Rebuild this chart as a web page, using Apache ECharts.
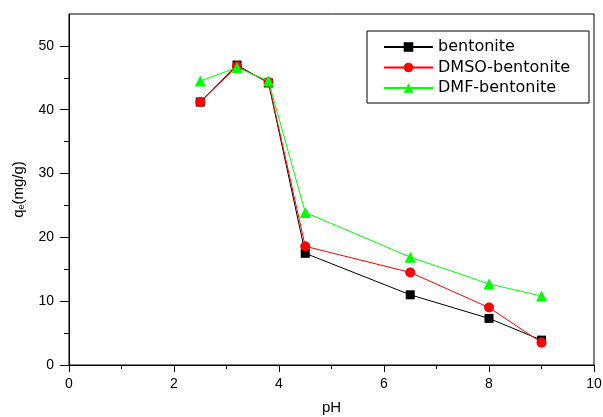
<!DOCTYPE html>
<html><head><meta charset="utf-8">
<script src="https://cdn.jsdelivr.net/npm/echarts@6/dist/echarts.min.js"></script>
<style>html,body{margin:0;padding:0;background:#fff}#c{width:603px;height:417px}</style>
</head><body><div id="c"></div>
<script>
const pH = [2.5, 3.2, 3.8, 4.5, 6.5, 8, 9];
const bentonite = [41.2, 47.0, 44.2, 17.5, 11.0, 7.3, 3.9];
const dmsoBentonite = [41.2, 46.8, 44.3, 18.6, 14.5, 9.0, 3.5];
const dmfBentonite = [44.5, 46.6, 44.5, 23.9, 16.9, 12.7, 10.8];
const seriesNames = ['bentonite', 'DMSO-bentonite', 'DMF-bentonite'];
const yMajorTicks = [0, 10, 20, 30, 40, 50];
const yMinorTicks = [5, 15, 25, 35, 45];

const font = 'Liberation Sans, Arial, sans-serif';
const pairs = arr => pH.map((x, i) => [x, arr[i]]);
const chart = echarts.init(document.getElementById('c'));
chart.setOption({
  animation: false,
  grid: {left: 69, right: 9, top: 14, bottom: 52, show: true, borderColor: '#000', borderWidth: 1,
         containLabel: false, outerBoundsMode: 'none'},
  legend: {
    orient: 'vertical', left: 367, top: 31,
    borderColor: '#000', borderWidth: 1,
    padding: [8, 19, 7, 16],
    itemWidth: 49, itemHeight: 12, itemGap: 4.5,
    textStyle: {fontFamily: 'DejaVu Sans', fontSize: 16, color: '#000'},
    data: seriesNames
  },
  xAxis: {
    type: 'value', min: 0, max: 10, interval: 2,
    name: 'pH', nameLocation: 'middle', nameGap: 35,
    nameTextStyle: {fontFamily: font, fontSize: 15, color: '#000'},
    axisLine: {lineStyle: {color: '#000', width: 1}},
    axisTick: {length: 7, lineStyle: {color: '#000'}},
    minorTick: {show: true, splitNumber: 2, length: 4, lineStyle: {color: '#000'}},
    axisLabel: {fontFamily: font, fontSize: 14, color: '#000', margin: 12},
    splitLine: {show: false}
  },
  yAxis: [{
    type: 'value', min: 0, max: 55,
    name: '{a|q}{b|e}{a|(mg/g)}', nameLocation: 'middle', nameGap: 43, nameRotate: 90,
    nameTextStyle: {rich: {
      a: {fontFamily: font, fontSize: 15, color: '#000'},
      b: {fontFamily: font, fontSize: 9, color: '#000', verticalAlign: 'bottom', padding: [6, 0, 0, 0]}
    }},
    axisLine: {show: true, lineStyle: {color: '#000', width: 1}},
    axisTick: {show: true, length: 9, customValues: yMajorTicks, lineStyle: {color: '#000'}},
    axisLabel: {fontFamily: font, fontSize: 14, color: '#000', margin: 15, customValues: yMajorTicks},
    splitLine: {show: false}
  }, {
    type: 'value', min: 0, max: 55, position: 'left',
    axisLine: {show: false},
    axisTick: {show: true, length: 5, customValues: yMinorTicks, lineStyle: {color: '#000'}},
    axisLabel: {show: false, customValues: yMinorTicks},
    splitLine: {show: false}
  }],
  series: [
    {name: seriesNames[0], type: 'line', data: pairs(bentonite), symbol: 'rect', symbolSize: 9,
     itemStyle: {color: '#000'}, lineStyle: {color: '#000', width: 1}, z: 2},
    {name: seriesNames[1], type: 'line', data: pairs(dmsoBentonite), symbol: 'circle', symbolSize: 10,
     itemStyle: {color: '#ff0000'}, lineStyle: {color: '#ff0000', width: 1}, z: 3},
    {name: seriesNames[2], type: 'line', data: pairs(dmfBentonite), symbol: 'triangle', symbolSize: 11,
     itemStyle: {color: '#00ff00'}, lineStyle: {color: '#00ff00', width: 1}, z: 4}
  ]
});
</script></body></html>
